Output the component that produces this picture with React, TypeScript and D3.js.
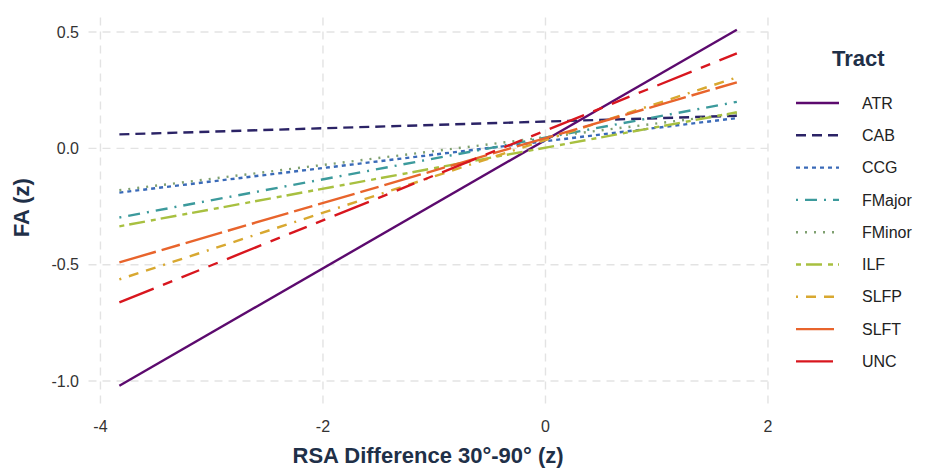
import React from "react";
import * as d3 from "d3";

// tract names, fitted line ends at the two x extremes
const tracts = ["ATR", "CAB", "CCG", "FMajor", "FMinor", "ILF", "SLFP", "SLFT", "UNC"];
const xEnds = [-3.83, 1.72];
const yStart = [-1.02, 0.06, -0.19, -0.297, -0.18, -0.335, -0.563, -0.49, -0.662];
const yEnd = [0.51, 0.14, 0.13, 0.2, 0.15, 0.155, 0.305, 0.284, 0.408];
const xTicks = [-4, -2, 0, 2];
const yTicks = [0.5, 0, -0.5, -1];

const colors = ["#5c0a6e", "#2b2366", "#3a6ab8", "#3c9a9c", "#7fa070", "#a8c040", "#d8a830", "#e8642c", "#d8161e"];
const dashes = ["", "10 6", "4 4", "2 7 12 7", "2 7", "5 5 16 6", "2 8 10 8 10 8", "38 6 19 6", "37 10 10 10 19 10 10 10"];

const W = 935;
const H = 476;
const font = "'Liberation Sans', Arial, sans-serif";
const titleColor = "#1f3048";

export default function App() {
  const xr = xEnds[1] - xEnds[0];
  const x = d3.scaleLinear().domain([xEnds[0] - 0.05 * xr, xEnds[1] + 0.05 * xr]).range([88.5, 768 - 0.3]);
  const yMin = d3.min(yStart)!;
  const yMax = d3.max(yEnd)!;
  const yr = yMax - yMin;
  const y = d3.scaleLinear().domain([yMin - 0.05 * yr, yMax + 0.05 * yr]).range([403.5, 11.9]);
  const [x0, x1] = x.range();
  const [y0, y1] = y.range();
  const line = d3.line<[number, number]>().x(d => x(d[0])).y(d => y(d[1]));

  return (
    <svg width={W} height={H} style={{ position: "absolute", left: 0, top: 0 }}>
      <rect width={W} height={H} fill="#fff" />
      {xTicks.map(t => (
        <line key={"gx" + t} x1={x(t)} x2={x(t)} y1={y0} y2={y1} stroke="#e3e3e3" strokeWidth={1.4} strokeDasharray="8 6" />
      ))}
      {yTicks.map(t => (
        <line key={"gy" + t} x1={x0} x2={x1} y1={y(t)} y2={y(t)} stroke="#e3e3e3" strokeWidth={1.4} strokeDasharray="8 6" />
      ))}
      {tracts.map((t, i) => (
        <path
          key={t}
          d={line([[xEnds[0], yStart[i]], [xEnds[1], yEnd[i]]])!}
          fill="none"
          stroke={colors[i]}
          strokeWidth={2.4}
          strokeDasharray={dashes[i] || undefined}
        />
      ))}
      {yTicks.map(t => (
        <text key={"ty" + t} x={79} y={y(t)} dy="0.35em" textAnchor="end" fontFamily={font} fontSize={16} fill="#333">
          {d3.format(".1f")(t).replace("−", "-")}
        </text>
      ))}
      {xTicks.map(t => (
        <text key={"tx" + t} x={x(t)} y={432} textAnchor="middle" fontFamily={font} fontSize={16} fill="#333">
          {String(t)}
        </text>
      ))}
      <text x={(x0 + x1) / 2} y={463} textAnchor="middle" fontFamily={font} fontSize={22} fontWeight="bold" fill={titleColor}>
        RSA Difference 30°-90° (z)
      </text>
      <text transform={`translate(29,${(y0 + y1) / 2}) rotate(-90)`} textAnchor="middle" fontFamily={font} fontSize={22} fontWeight="bold" fill={titleColor}>
        FA (z)
      </text>
      <text x={832} y={66} fontFamily={font} fontSize={22} fontWeight="bold" fill={titleColor}>
        Tract
      </text>
      {tracts.map((t, i) => {
        const ky = 103 + i * 32.3;
        return (
          <g key={"lg" + t}>
            <line x1={796} x2={839} y1={ky} y2={ky} stroke={colors[i]} strokeWidth={2.4} strokeDasharray={dashes[i] || undefined} />
            <text x={862} y={ky} dy="0.35em" fontFamily={font} fontSize={16} fill="#222">
              {t}
            </text>
          </g>
        );
      })}
    </svg>
  );
}
